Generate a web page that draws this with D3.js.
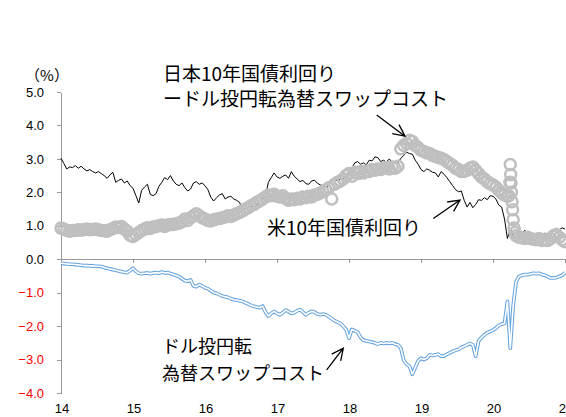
<!DOCTYPE html>
<meta charset="utf-8">
<style>
    body { margin: 0; background: #fff; }
    svg { display: block; font-family: "Liberation Sans", Arial, sans-serif; }
    .axis path, .axis line { stroke: #999; shape-rendering: crispEdges; }
    .note { font-family: "Noto Sans CJK JP", sans-serif; fill: #000; }
</style>

<svg width="566" height="417"></svg>

<script src="https://d3js.org/d3.v7.min.js"></script>

<script>
// sampled every 0.04 year from Jan 2014, one row per year
var start = 2014, step = 0.04;

var usYield = [
    3.02,2.86,2.70,2.76,2.74,2.80,2.72,2.78,2.70,2.64,2.68,2.62,2.58,2.62,2.56,2.50,2.42,2.52,2.60,2.30,2.36,2.40,2.28,2.34,2.20,
    2.12,1.90,1.68,2.06,2.16,2.24,1.94,1.90,1.96,2.18,2.30,2.44,2.38,2.50,2.34,2.24,2.20,2.28,2.14,2.04,2.10,2.28,2.32,2.24,2.28,
    2.20,2.08,1.86,1.74,1.84,1.92,1.96,1.80,1.86,1.88,1.80,1.76,1.70,1.48,1.52,1.56,1.58,1.56,1.60,1.74,1.82,1.88,2.30,2.44,2.58,
    2.46,2.42,2.48,2.52,2.42,2.62,2.48,2.40,2.32,2.36,2.26,2.24,2.34,2.36,2.28,2.22,2.20,2.14,2.22,2.36,2.38,2.34,2.40,2.42,2.48,
    2.56,2.72,2.88,2.92,2.84,2.88,2.82,2.96,2.94,3.06,3.04,2.92,2.96,2.90,3.00,2.88,2.92,2.88,3.02,3.10,3.20,3.16,3.14,2.96,2.84,
    2.68,2.62,2.70,2.66,2.60,2.58,2.46,2.62,2.54,2.44,2.32,2.20,2.08,2.02,2.04,1.76,1.56,1.70,1.54,1.64,1.78,1.76,1.84,1.78,1.90,
    1.88,1.80,1.62,1.56,1.20,0.62,0.90,0.70,0.64,0.70,0.78,0.86,0.80,0.74,0.72,0.66,0.70,0.72,0.78,0.74,0.86,0.84,0.92,0.88,0.94,
    0.90
];

// JGB 10y minus swap cost (gray rings); the March 2020 jump is in jpSpike
var jpHedged = [
    0.93,0.90,0.86,0.84,0.86,0.86,0.88,0.87,0.89,0.90,0.88,0.89,0.90,0.88,0.86,0.85,0.84,0.88,0.92,0.96,0.95,0.98,0.90,0.84,0.72,
    0.68,0.74,0.80,0.86,0.90,0.94,0.92,0.96,0.98,1.00,1.02,0.98,1.02,1.04,1.04,1.06,1.08,1.12,1.20,1.16,1.24,1.30,1.36,1.30,1.24,
    1.20,1.16,1.14,1.18,1.20,1.22,1.24,1.26,1.30,1.28,1.32,1.36,1.40,1.44,1.50,1.54,1.60,1.64,1.70,1.74,1.80,1.86,1.92,1.90,1.94,
    1.88,1.86,1.90,1.82,1.76,1.80,1.78,1.82,1.80,1.86,1.84,1.88,1.86,1.92,1.94,1.98,2.02,2.08,2.14,1.80,2.24,2.30,2.34,2.40,2.50,
    2.56,2.48,2.60,2.56,2.62,2.58,2.64,2.62,2.68,2.66,2.70,2.68,2.72,2.74,2.70,2.76,2.72,2.78,3.30,3.40,3.46,3.56,3.52,3.40,3.34,
    3.26,3.22,3.18,3.16,3.10,3.08,3.04,3.02,2.98,2.92,2.86,2.80,2.72,2.68,2.62,2.62,2.66,2.72,2.76,2.66,2.56,2.46,2.40,2.32,2.26,
    2.22,2.16,2.06,1.98,1.92,1.88,null,null,0.70,0.66,0.64,0.62,0.66,0.62,0.60,0.58,0.62,0.56,0.58,0.56,0.62,0.70,0.74,0.66,0.58,
    0.52
];

var jpSpike = [
    [2020.22, 1.90], [2020.235, 2.30], [2020.24, 2.83], [2020.245, 2.53], [2020.25, 2.28],
    [2020.257, 2.00], [2020.264, 1.72], [2020.272, 1.48], [2020.28, 1.18], [2020.292, 0.93], [2020.305, 0.80]
];

// dollar-invest / yen-convert FX swap cost (blue)
var swapCost = [
    -0.12,-0.13,-0.14,-0.15,-0.15,-0.16,-0.17,-0.18,-0.19,-0.19,-0.20,-0.20,-0.21,-0.21,-0.22,-0.25,-0.27,-0.29,-0.31,-0.33,-0.35,-0.37,-0.39,-0.40,-0.34,
    -0.27,-0.36,-0.42,-0.43,-0.42,-0.41,-0.43,-0.41,-0.40,-0.42,-0.38,-0.41,-0.40,-0.43,-0.46,-0.49,-0.52,-0.58,-0.64,-0.66,-0.62,-0.80,-0.82,-0.76,-0.80,
    -0.85,-0.88,-0.94,-1.00,-1.02,-1.06,-1.10,-1.12,-1.14,-1.18,-1.21,-1.22,-1.24,-1.26,-1.30,-1.34,-1.38,-1.41,-1.43,-1.45,-1.40,-1.58,-1.70,-1.62,-1.56,
    -1.62,-1.66,-1.60,-1.52,-1.56,-1.62,-1.60,-1.54,-1.51,-1.58,-1.66,-1.60,-1.56,-1.58,-1.64,-1.66,-1.64,-1.66,-1.72,-1.78,-1.84,-1.88,-1.92,-2.00,-2.10,
    -2.36,-2.10,-2.14,-2.18,-2.34,-2.42,-2.44,-2.46,-2.48,-2.50,-2.54,-2.50,-2.52,-2.50,-2.52,-2.50,-2.54,-2.56,-2.66,-3.02,-3.14,-3.20,-3.44,-3.24,-3.04,
    -2.96,-3.00,-2.96,-2.86,-2.88,-2.86,-2.84,-2.90,-2.90,-2.84,-2.80,-2.76,-2.72,-2.70,-2.64,-2.60,-2.56,-2.52,-2.56,-2.90,-2.44,-2.34,-2.26,-2.20,-2.16,
    -2.12,-2.06,-1.98,-1.94,-1.92,-1.26,-2.66,-1.40,-0.68,-0.52,-0.48,-0.46,-0.46,-0.44,-0.42,-0.43,-0.42,-0.46,-0.48,-0.52,-0.56,-0.56,-0.55,-0.52,-0.48,
    -0.40
];

var yTicks = [-4, -3, -2, -1, 0, 1, 2, 3, 4, 5];
var xTicks = [2014, 2015, 2016, 2017, 2018, 2019, 2020, 2021];

var svg = d3.select("svg");

var x = d3.scaleLinear().domain([2014, 2021]).range([61, 565]);
var y = d3.scaleLinear().domain([-4, 5]).range([393, 92]);

function t(i) { return start + i * step; }

// axes
svg.append("g")
    .attr("class", "axis")
    .attr("transform", "translate(61,0)")
    .call(d3.axisLeft(y).tickValues(yTicks).tickSize(4).tickSizeOuter(0).tickPadding(13)
        .tickFormat(function(d) { return d < 0 ? "\u2212" + (-d).toFixed(1) : d.toFixed(1); }))
    .call(function(g) {
        g.selectAll("text")
            .attr("font-size", 13)
            .attr("font-family", "Liberation Sans, Arial, sans-serif")
            .attr("fill", function(d) { return d < 0 ? "#ff0000" : "#000"; });
    });

svg.append("g")
    .attr("class", "axis")
    .attr("transform", "translate(0," + y(0) + ")")
    .call(d3.axisBottom(x).tickValues(xTicks).tickSize(4).tickSizeOuter(0).tickFormat(""));

svg.append("g")
    .selectAll("text")
    .data(xTicks)
    .join("text")
    .attr("x", function(d) { return x(d) + 1; })
    .attr("y", 413)
    .attr("text-anchor", "middle")
    .attr("font-size", 13)
    .text(function(d) { return String(d % 100); });

svg.append("text")
    .attr("class", "note")
    .attr("x", 47)
    .attr("y", 81)
    .attr("text-anchor", "middle")
    .attr("font-size", 15)
    .text("（%）");

// US 10y
var line = d3.line()
    .defined(function(d) { return d[1] != null; })
    .x(function(d) { return x(d[0]); })
    .y(function(d) { return y(d[1]); });

svg.append("path")
    .datum(usYield.map(function(v, i) { return [t(i), v]; }))
    .attr("fill", "none")
    .attr("stroke", "#000")
    .attr("stroke-width", 1)
    .attr("d", line);

// hedged JGB rings
var rings = jpHedged.map(function(v, i) { return [t(i), v]; })
    .filter(function(d) { return d[1] != null; })
    .concat(jpSpike)
    .sort(function(a, b) { return a[0] - b[0]; });

svg.append("g")
    .selectAll("circle")
    .data(rings)
    .join("circle")
    .attr("cx", function(d) { return x(d[0]); })
    .attr("cy", function(d) { return y(d[1]); })
    .attr("r", 5.5)
    .attr("fill", "none")
    .attr("stroke", "#bfbfbf")
    .attr("stroke-width", 2.5);

// swap cost, drawn as a hollow double line
var cost = swapCost.map(function(v, i) { return [t(i), v]; });
svg.append("path")
    .datum(cost)
    .attr("fill", "none")
    .attr("stroke", "#66a3dc")
    .attr("stroke-width", 3.7)
    .attr("stroke-linejoin", "round")
    .attr("d", line);
svg.append("path")
    .datum(cost)
    .attr("fill", "none")
    .attr("stroke", "#fff")
    .attr("stroke-width", 1.6)
    .attr("stroke-linejoin", "round")
    .attr("d", line);

// annotations
var notes = [
    { text: "日本10年国債利回り", at: [2015.417, 5.33], size: 19 },
    { text: "ードル投円転為替スワップコスト", at: [2015.417, 4.58], size: 19 },
    { text: "米10年国債利回り", at: [2016.861, 0.72], size: 19 },
    { text: "ドル投円転", at: [2015.403, -2.80], size: 18 },
    { text: "為替スワップコスト", at: [2015.403, -3.61], size: 18 }
];

svg.append("g")
    .selectAll("text")
    .data(notes)
    .join("text")
    .attr("class", "note")
    .attr("x", function(d) { return x(d.at[0]); })
    .attr("y", function(d) { return y(d.at[1]); })
    .attr("font-size", function(d) { return d.size; })
    .text(function(d) { return d.text; });

var arrows = [
    [[2018.385, 4.31], [2018.778, 3.68]],
    [[2019.171, 1.22], [2019.542, 1.77]],
    [[2017.690, -3.31], [2017.921, -2.66]]
];

var ag = svg.append("g")
    .attr("stroke", "#000")
    .attr("stroke-width", 1.3)
    .attr("fill", "none");

arrows.forEach(function(a) {
    var x0 = x(a[0][0]), y0 = y(a[0][1]),
        x1 = x(a[1][0]), y1 = y(a[1][1]),
        ang = Math.atan2(y1 - y0, x1 - x0),
        len = 13, spread = 0.45;
    ag.append("path")
        .attr("d", "M" + x0 + "," + y0 + "L" + x1 + "," + y1 +
            "M" + (x1 - len * Math.cos(ang - spread)) + "," + (y1 - len * Math.sin(ang - spread)) +
            "L" + x1 + "," + y1 +
            "L" + (x1 - len * Math.cos(ang + spread)) + "," + (y1 - len * Math.sin(ang + spread)));
});
</script>
